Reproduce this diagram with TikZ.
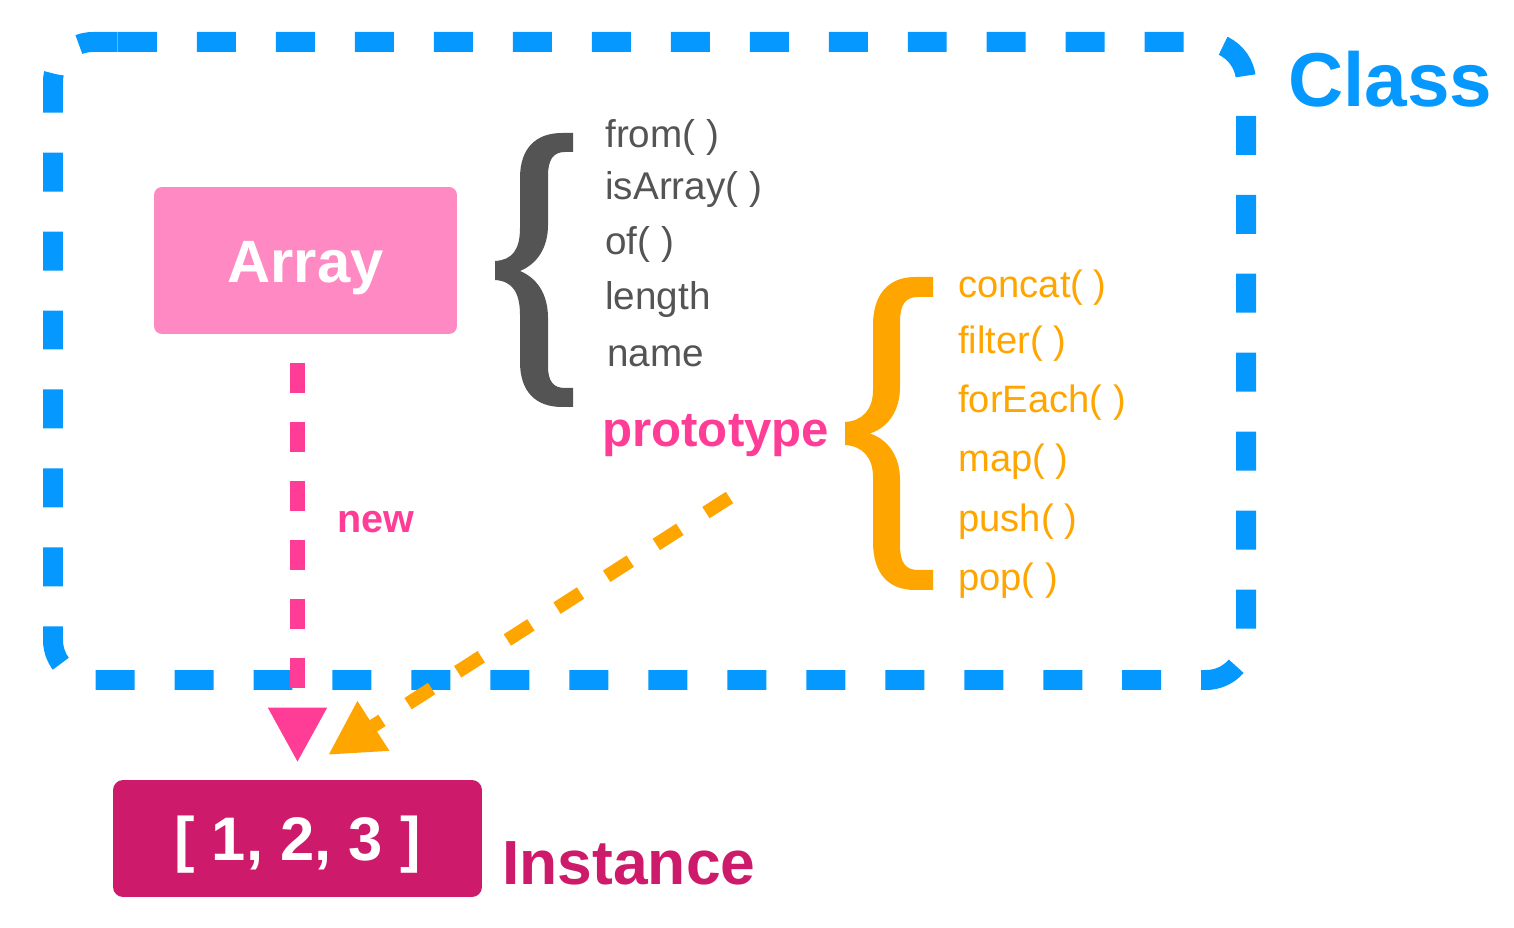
\documentclass[tikz,border=0pt]{standalone}
\usepackage{fontspec}
\setmainfont{Liberation Sans}
\usetikzlibrary{arrows.meta}
\definecolor{clsblue}{RGB}{5,152,255}
\definecolor{arrpink}{RGB}{255,138,195}
\definecolor{hotpink}{RGB}{255,60,150}
\definecolor{crimsonc}{RGB}{206,26,106}
\definecolor{protoorange}{RGB}{255,165,0}
\definecolor{staticgray}{RGB}{84,84,84}
\begin{document}
\begin{tikzpicture}[x=0.02cm,y=-0.02cm,
  staticitem/.style={anchor=base west, inner sep=0pt, text=staticgray, font=\fontsize{22}{26}\selectfont},
  protoitem/.style={anchor=base west, inner sep=0pt, text=protoorange, font=\fontsize{21.7}{26}\selectfont},
  biglabel/.style={anchor=base west, inner sep=0pt, font=\fontsize{35.5}{40}\selectfont\bfseries},
  classframe/.style={draw=clsblue, line width=11.38pt, dash pattern=on 22.19pt off 22.76pt, rounded corners=22.76pt},
  newarrow/.style={draw=hotpink, line width=8.54pt, dash pattern=on 17.07pt off 16.5pt, shorten <=16.5pt, shorten >=9.67pt, -{Triangle[width=31.3pt,length=31.3pt]}},
  protoarrow/.style={draw=protoorange, line width=7.7pt, dash pattern=on 15.93pt off 17.64pt, -{Triangle[width=31.3pt,length=30.7pt]}}
]
\useasboundingbox (0,0) rectangle (1514,928);

% class frame
\coordinate (frameStart) at (118,42);
\draw[classframe] (frameStart) -- (1246,42) -- (1246,680) -- (53,680) -- (53,42) -- (frameStart);
\node[biglabel, text=clsblue, font=\fontsize{43.5}{48}\selectfont\bfseries] (classlabel) at (1288,107) {Class};

% Array box
\node[fill=arrpink, rounded corners=4.5pt, minimum width=6.06cm, minimum height=2.94cm, inner sep=0pt,
      text=white, font=\fontsize{34}{40}\selectfont\bfseries, text height=25.6pt, text depth=0pt] (arr) at (305.5,260.5) {Array};

% static members
\fill[staticgray] (573,133) -- (562,133) .. controls (536,133) and (520,148) .. (520,178) -- (520,228)
  .. controls (520,250) and (512,260) .. (495,261) -- (495,280) .. controls (512,281) and (520,292) .. (520,315)
  -- (520,362) .. controls (520,392) and (536,407) .. (562,407) -- (573,407) -- (573,388) -- (565,388)
  .. controls (553,388) and (548,381) .. (548,366) -- (548,318) .. controls (548,294) and (537,278) .. (520,271)
  .. controls (537,264) and (548,248) .. (548,225) -- (548,176) .. controls (548,160) and (553,152) .. (565,152)
  -- (573,152) -- cycle;
\node[staticitem] (sfrom) at (605,148) {from( )};
\node[staticitem] (sisarray) at (605,200) {isArray( )};
\node[staticitem] (sof) at (605,255) {of( )};
\node[staticitem] (slength) at (605,310) {length};
\node[staticitem] (sname) at (607,367) {name};

% prototype
\node[anchor=base west, inner sep=0pt, text=hotpink, font=\fontsize{28}{32}\selectfont\bfseries] (proto) at (602,447) {prototype};
\fill[protoorange] (933,277) -- (915,277) .. controls (888,277) and (873,295) .. (873,325) -- (873,390)
  .. controls (873,410) and (862,421) .. (845,422) -- (845,445) .. controls (862,446) and (873,457) .. (873,477)
  -- (873,542) .. controls (873,573) and (888,590) .. (915,590) -- (933,590) -- (933,570) -- (918,570)
  .. controls (905,570) and (900,562) .. (900,545) -- (900,480) .. controls (900,457) and (889,440) .. (870,433.5)
  .. controls (889,427) and (900,410) .. (900,387) -- (900,322) .. controls (900,305) and (905,297) .. (918,297)
  -- (933,297) -- cycle;
\node[protoitem] (pconcat) at (958,298) {concat( )};
\node[protoitem] (pfilter) at (958,354) {filter( )};
\node[protoitem] (pforeach) at (958,413) {forEach( )};
\node[protoitem] (pmap) at (958,472) {map( )};
\node[protoitem] (ppush) at (958,532) {push( )};
\node[protoitem] (ppop) at (958,591) {pop( )};

% instance
\node[fill=crimsonc, rounded corners=5.7pt, minimum width=7.38cm, minimum height=2.34cm, inner sep=0pt,
      text=white, font=\fontsize{35}{40}\selectfont\bfseries, text height=25pt, text depth=0pt] (inst) at (297.5,838.5) {[ 1, 2, 3 ]};
\node[biglabel, text=crimsonc] (instlabel) at (502,884) {Instance};

% connectors
\draw[newarrow] (inst.north |- arr.south) -- (inst.north);
\node[anchor=base west, inner sep=0pt, text=hotpink, font=\fontsize{22.5}{26}\selectfont\bfseries] (newlabel) at (337,533) {new};

\coordinate (protoStart) at (729.5,497.5);
\coordinate (protoEnd) at (328,755);
\draw[protoarrow] (protoStart) -- (protoEnd);
\end{tikzpicture}
\end{document}
